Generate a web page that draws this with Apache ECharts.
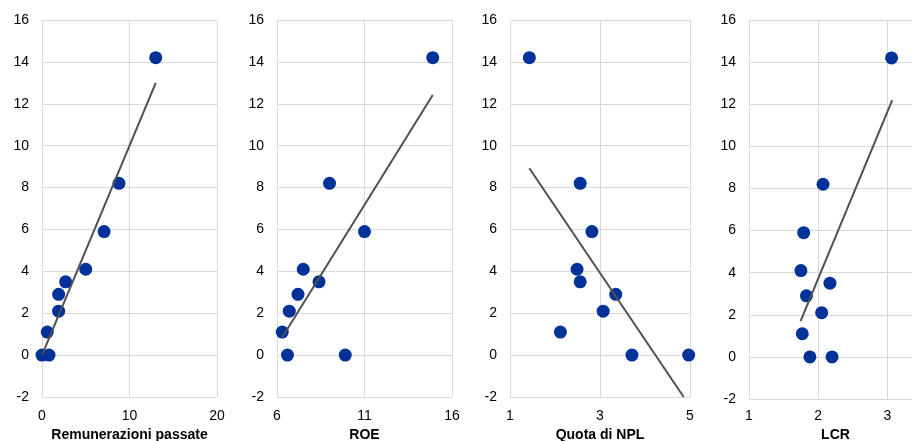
<!DOCTYPE html>
<html>
<head>
<meta charset="utf-8">
<script src="https://cdn.jsdelivr.net/npm/echarts@6/dist/echarts.min.js"></script>
<style>html,body{margin:0;padding:0;background:#fff}#c{width:912px;height:441px}</style>
</head>
<body>
<div id="c"></div>
<script>
// Y values (shared by all panels)
const yVals = [14.2, 8.2, 5.9, 4.1, 3.5, 2.9, 2.1, 1.1, 0, 0];
// X values per panel
const xRemun = [13.0, 8.8, 7.1, 5.0, 2.7, 1.9, 1.9, 0.6, 0.0, 0.8];
const xROE   = [14.9, 9.0, 11.0, 7.5, 8.4, 7.2, 6.7, 6.3, 6.6, 9.9];
const xNPL   = [1.43, 2.56, 2.82, 2.49, 2.56, 3.35, 3.07, 2.12, 3.71, 4.97];
const xLCR   = [3.06, 2.07, 1.79, 1.75, 2.17, 1.83, 2.05, 1.77, 1.88, 2.20];
// Trend line end points [x, y]
const trendRemun = [[0, 0], [13.0, 13.0]];
const trendROE   = [[6.3, 0.85], [14.9, 12.42]];
const trendNPL   = [[1.43, 8.92], [4.86, -2]];
const trendLCR   = [[1.745, 1.7], [3.07, 12.2]];
// Axis titles and ranges
const axisNames = ['Remunerazioni passate', 'ROE', 'Quota di NPL', 'LCR'];
const xMins = [0, 6, 1, 1];
const xMaxs = [20, 16, 5, 3.5];
const xIntervals = [10, 5, 2, 1];

const xs = [xRemun, xROE, xNPL, xLCR];
const trends = [trendRemun, trendROE, trendNPL, trendLCR];
const grids = [
  {left: 42, top: 20, width: 175, height: 377, outerBoundsMode: 'none', containLabel: false},
  {left: 277, top: 20, width: 175, height: 377, outerBoundsMode: 'none', containLabel: false},
  {left: 510, top: 20, width: 180, height: 377, outerBoundsMode: 'none', containLabel: false},
  {left: 749, top: 20, width: 173, height: 379, outerBoundsMode: 'none', containLabel: false}
];
const nameGaps = [31, 31, 31, 29];
const labelMargins = [12, 12, 12, 10];
const font = "'Liberation Sans', Arial, sans-serif";
const gridColor = '#d9d9d9';

const option = {
  animation: false,
  backgroundColor: '#fff',
  grid: grids,
  xAxis: grids.map((g, i) => ({
    type: 'value', gridIndex: i, min: xMins[i], max: xMaxs[i], interval: xIntervals[i],
    name: axisNames[i], nameLocation: 'middle', nameGap: nameGaps[i],
    nameTextStyle: {fontFamily: font, fontSize: 14, fontWeight: 'bold', color: '#000'},
    axisLine: {show: false}, axisTick: {show: false},
    axisLabel: {fontFamily: font, fontSize: 14, color: '#000', margin: labelMargins[i], showMaxLabel: i === 3 ? false : null},
    splitLine: {show: true, lineStyle: {color: gridColor, width: 1}}
  })),
  yAxis: grids.map((g, i) => ({
    type: 'value', gridIndex: i, min: -2, max: 16, interval: 2,
    axisLine: {show: false}, axisTick: {show: false},
    axisLabel: {fontFamily: font, fontSize: 14, color: '#000', margin: 13},
    splitLine: {show: true, lineStyle: {color: gridColor, width: 1}}
  })),
  series: []
};
xs.forEach((xv, i) => {
  option.series.push({
    type: 'scatter', xAxisIndex: i, yAxisIndex: i, symbolSize: 13,
    itemStyle: {color: '#003299', opacity: 1},
    data: xv.map((x, k) => [x, yVals[k]]), z: 2
  });
  option.series.push({
    type: 'line', xAxisIndex: i, yAxisIndex: i, showSymbol: false, symbol: 'none',
    lineStyle: {color: '#505050', width: 2}, data: trends[i], z: 3, silent: true
  });
});
echarts.init(document.getElementById('c')).setOption(option);
</script>
</body>
</html>
